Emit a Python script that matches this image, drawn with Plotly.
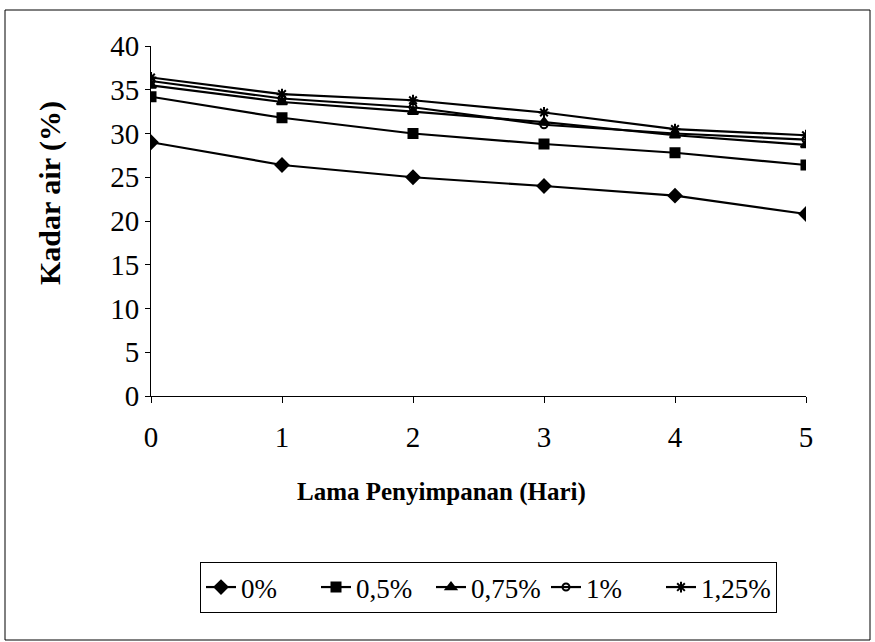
import plotly.graph_objects as go

days = [0, 1, 2, 3, 4, 5]
series_names = ["0%", "0,5%", "0,75%", "1%", "1,25%"]
v_0 = [29.0, 26.4, 25.0, 24.0, 22.9, 20.8]
v_05 = [34.2, 31.8, 30.0, 28.8, 27.8, 26.4]
v_075 = [35.5, 33.6, 32.5, 31.3, 29.8, 28.7]
v_1 = [36.0, 34.0, 33.0, 31.0, 30.0, 29.3]
v_125 = [36.4, 34.5, 33.8, 32.4, 30.5, 29.8]
values = [v_0, v_05, v_075, v_1, v_125]
symbols = ["diamond", "square", "triangle-up", "circle-open", "asterisk-open"]
sizes = [10, 9, 9, 7, 9]

fig = go.Figure()
for name, vals, sym, sz in zip(series_names, values, symbols, sizes):
    fig.add_trace(go.Scatter(
        x=days, y=vals, name=name, mode="lines+markers",
        line=dict(color="black", width=2.2),
        marker=dict(symbol=sym, size=sz, color="black",
                    line=dict(color="black", width=2)),
    ))

font_family = "Liberation Serif, Times New Roman, serif"
fig.update_layout(
    width=875, height=642,
    margin=dict(l=151, r=69, t=46, b=246),
    paper_bgcolor="white", plot_bgcolor="white",
    font=dict(family=font_family, size=28, color="black"),
    showlegend=True,
    legend=dict(orientation="h", x=(200 - 151) / 655, y=(396 - 562) / 350,
                xanchor="left", yanchor="top",
                bordercolor="black", borderwidth=1,
                font=dict(size=27, family=font_family),
                itemwidth=30, entrywidth=70, entrywidthmode="pixels",
                tracegroupgap=0),
    xaxis=dict(range=[0, 5], tickvals=days, showgrid=False, zeroline=False,
               showline=True, linecolor="black", linewidth=1,
               ticks="outside", ticklen=6, tickcolor="black",
               ticklabelstandoff=9,
               tickfont=dict(size=29)),
    yaxis=dict(range=[0, 40], dtick=5, showgrid=False, zeroline=False,
               showline=True, linecolor="black", linewidth=1,
               ticks="outside", ticklen=5, tickcolor="black",
               tickfont=dict(size=29)),
    annotations=[
        dict(text="<b>Lama Penyimpanan (Hari)</b>", xref="paper", yref="paper",
             x=(441 - 151) / 655, y=(396 - 492) / 350,
             xanchor="center", yanchor="middle", showarrow=False,
             font=dict(size=25, family=font_family)),
        dict(text="<b>Kadar air (%)</b>", xref="paper", yref="paper",
             x=(50 - 151) / 655, y=(396 - 193) / 350, textangle=-90,
             xanchor="center", yanchor="middle", showarrow=False,
             font=dict(size=30, family=font_family)),
    ],
    shapes=[dict(type="rect", xref="paper", yref="paper",
                 x0=(5 - 151) / 655, x1=(870 - 151) / 655,
                 y0=(396 - 640) / 350, y1=(396 - 10) / 350,
                 line=dict(color="black", width=1))],
)

fig.write_html("out.html")
